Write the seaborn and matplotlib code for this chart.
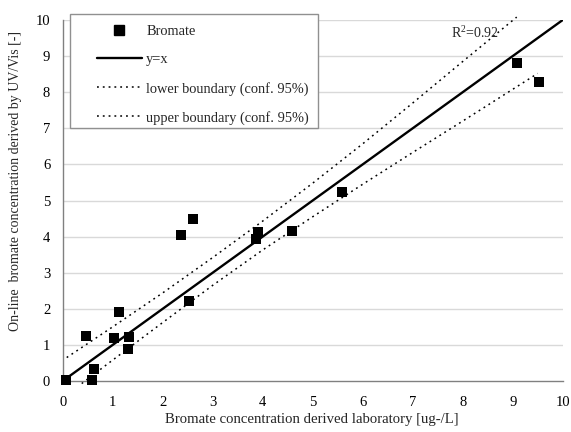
import matplotlib
matplotlib.use("Agg")
import matplotlib.pyplot as plt
import seaborn as sns
import pandas as pd
from matplotlib.lines import Line2D
from matplotlib.patches import Rectangle

# ---- data ----
lab_x = [0.07, 0.58, 0.63, 0.46, 1.03, 1.13, 1.33, 1.31, 2.37, 2.61, 2.53,
         3.91, 3.87, 4.59, 5.59, 9.08, 9.53]
uvvis_y = [0.03, 0.03, 0.34, 1.25, 1.20, 1.92, 1.23, 0.89, 4.04, 4.48, 2.22,
           4.12, 3.93, 4.16, 5.24, 8.80, 8.27]

ident_x = [0, 10]
ident_y = [0, 10]

upper_x = [0.08, 1.0, 2.0, 3.0, 4.0, 5.0, 6.0, 7.0, 8.0, 9.08]
upper_y = [0.65, 1.50, 2.44, 3.42, 4.43, 5.48, 6.57, 7.70, 8.85, 10.08]

lower_x = [0.38, 1.0, 2.0, 3.0, 4.0, 5.0, 6.0, 7.0, 8.0, 9.50]
lower_y = [-0.07, 0.58, 1.62, 2.65, 3.63, 4.55, 5.45, 6.33, 7.20, 8.52]

x_ticks = list(range(0, 11))
y_ticks = list(range(0, 11))
r2_text = "R$^2$=0.92"

labels = ["Bromate", "y=x", "lower boundary (conf. 95%)", "upper boundary (conf. 95%)"]
x_label = "Bromate concentration derived laboratory [ug-/L]"
y_label = "On-line  bromate concentration derived by UV/Vis [-]"

# ---- style ----
sns.set_theme(style="white")
plt.rcParams["font.family"] = ["Liberation Serif", "DejaVu Serif"]
plt.rcParams["mathtext.fontset"] = "custom"
plt.rcParams["mathtext.rm"] = "Liberation Serif"

W, H = 571, 432
fig = plt.figure(figsize=(W / 100, H / 100), dpi=100)
ax = fig.add_axes([62.7 / W, 1 - 381 / H, 500 / W, 361 / H])

df = pd.DataFrame({"lab": lab_x, "uv": uvvis_y})

dot_style = (0, (1.2, 2.6))

ax.set_xlim(0, 10)
ax.set_ylim(0, 10)
for t in y_ticks[1:]:
    ax.axhline(t, color="#d9d9d9", lw=1.0, zorder=0)

sns.lineplot(x=lower_x, y=lower_y, ax=ax, color="black", lw=1.1,
             linestyle=dot_style, sort=False, estimator=None, zorder=2)
sns.lineplot(x=upper_x, y=upper_y, ax=ax, color="black", lw=1.1,
             linestyle=dot_style, sort=False, estimator=None, zorder=2)
ax.lines[-1].set_clip_on(False)
ax.lines[-2].set_clip_on(False)
sns.lineplot(x=ident_x, y=ident_y, ax=ax, color="black", lw=1.7,
             sort=False, estimator=None, zorder=3)
sns.scatterplot(data=df, x="lab", y="uv", ax=ax, marker="s", color="black",
                s=50, linewidth=0, zorder=4, clip_on=False)

ax.set_xticks(x_ticks)
ax.set_yticks(y_ticks)
ax.tick_params(axis="both", direction="out", length=4, width=1, color="#808080",
               labelsize=10.5, labelcolor="black")
ax.tick_params(axis="x", pad=7)
ax.tick_params(axis="y", pad=5)

for s in ["top", "right"]:
    ax.spines[s].set_visible(False)
for s in ["left", "bottom"]:
    ax.spines[s].set_color("#808080")
    ax.spines[s].set_linewidth(1.0)

ax.set_xlabel(x_label, fontsize=10.6, va="center")
ax.xaxis.set_label_coords(0.498, -0.106)
ax.set_ylabel(y_label, fontsize=10, va="center")
ax.yaxis.set_label_coords(-0.094, 0.553)

ax.text(7.77, 9.64, r2_text, fontsize=10, va="center", ha="left")

# legend frame
fig.add_artist(Rectangle((70 / W, 1 - 128 / H), 248 / W, 114 / H,
                         transform=fig.transFigure, facecolor="white",
                         edgecolor="#909090", lw=1.0, zorder=5))
handles = [
    Line2D([], [], marker="s", color="black", linestyle="none", markersize=7),
    Line2D([], [], color="black", lw=1.7),
    Line2D([], [], color="black", lw=1.1, linestyle=dot_style),
    Line2D([], [], color="black", lw=1.1, linestyle=dot_style),
]
leg = fig.legend(handles, labels, loc="upper left",
                 bbox_to_anchor=(97 / W, 1 - 25 / H), frameon=False,
                 fontsize=10.4, handlelength=3.1, handletextpad=0.3,
                 labelspacing=1.05, borderpad=0, borderaxespad=0)
leg.set_zorder(6)

fig.savefig("out.png", dpi=100)
